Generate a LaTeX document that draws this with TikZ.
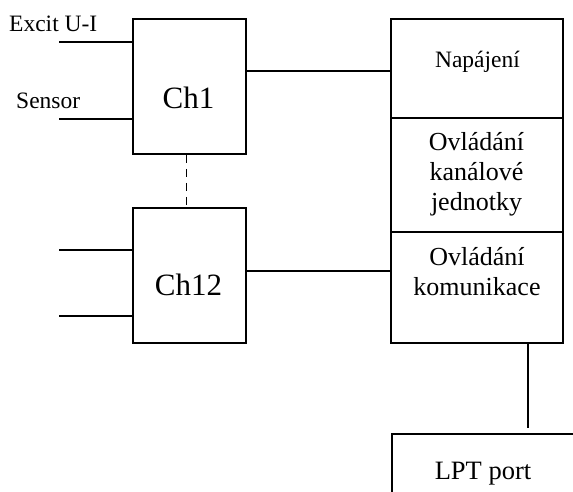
\documentclass[tikz,border=0pt]{standalone}
\usepackage{fontspec}
\setmainfont{Liberation Serif}
\usetikzlibrary{calc}
\begin{document}
\begin{tikzpicture}[x=1pt,y=-1pt,
  box/.style={draw, line width=1.5pt, rectangle, inner sep=0pt},
  wire/.style={line width=1.5pt},
  lbl/.style={font=\fontsize{23.5}{28}\selectfont, inner sep=0pt},
  big/.style={font=\fontsize{31}{36}\selectfont, inner sep=0pt},
  mid/.style={font=\fontsize{26}{30}\selectfont, inner sep=0pt, align=center}]
\useasboundingbox (0,0) rectangle (573,491);
\clip (0,0) rectangle (573,491);
% channel boxes
\node[box, minimum width=113pt, minimum height=135pt] (ch1) at (189.5,86.5) {};
\node[box, minimum width=113pt, minimum height=135pt] (ch12) at (189.5,275.5) {};
\node[big] at (188.5,98) {Ch1};
\node[big] at (188.5,285) {Ch12};
% right column
\node[box, minimum width=172pt, minimum height=99pt] (nap) at (477,68.5) {};
\node[box, minimum width=172pt, minimum height=114pt] (kan) at (477,175) {};
\node[box, minimum width=172pt, minimum height=111pt] (kom) at (477,287.5) {};
\node[mid, font=\fontsize{23.5}{28}\selectfont, anchor=base] at (477.5,67) {Napájení};
\node[mid] at (476.5,174.5) {Ovládání\\kanálové\\jednotky};
\node[mid] at (477,271.5) {Ovládání\\komunikace};
% LPT port (clipped by the picture edge)
\node[box, minimum width=190pt, minimum height=70pt, anchor=north west] (lpt) at (391,433) {};
\node[mid, font=\fontsize{26.5}{32}\selectfont, anchor=base] at (483,479) {LPT port};
% input labels
\node[lbl, anchor=west] at (9,23.5) {Excit U-I};
\node[lbl, anchor=west] at (16,100.5) {Sensor};
% input wires
\coordinate (in1) at (59,42);
\coordinate (in2) at (59,119);
\coordinate (in3) at (59,250);
\coordinate (in4) at (59,316);
\draw[wire] (in1) -- (in1 -| ch1.west);
\draw[wire] (in2) -- (in2 -| ch1.west);
\draw[wire] (in3) -- (in3 -| ch12.west);
\draw[wire] (in4) -- (in4 -| ch12.west);
% channel to column connections
\coordinate (o1) at ($(ch1.north east)!0.385!(ch1.south east)$);
\coordinate (o2) at ($(ch12.north east)!0.467!(ch12.south east)$);
\draw[wire] (o1) -- (o1 -| nap.west);
\draw[wire] (o2) -- (o2 -| kom.west);
% dashed link
\draw[wire, dash pattern=on 8pt off 6pt] ($(ch1.south)+(-3,0)$) -- ($(ch12.north)+(-3,0)$);
% to LPT
\coordinate (lend) at (528,428);
\draw[wire] (lend |- kom.south) -- (lend);
\end{tikzpicture}
\end{document}
